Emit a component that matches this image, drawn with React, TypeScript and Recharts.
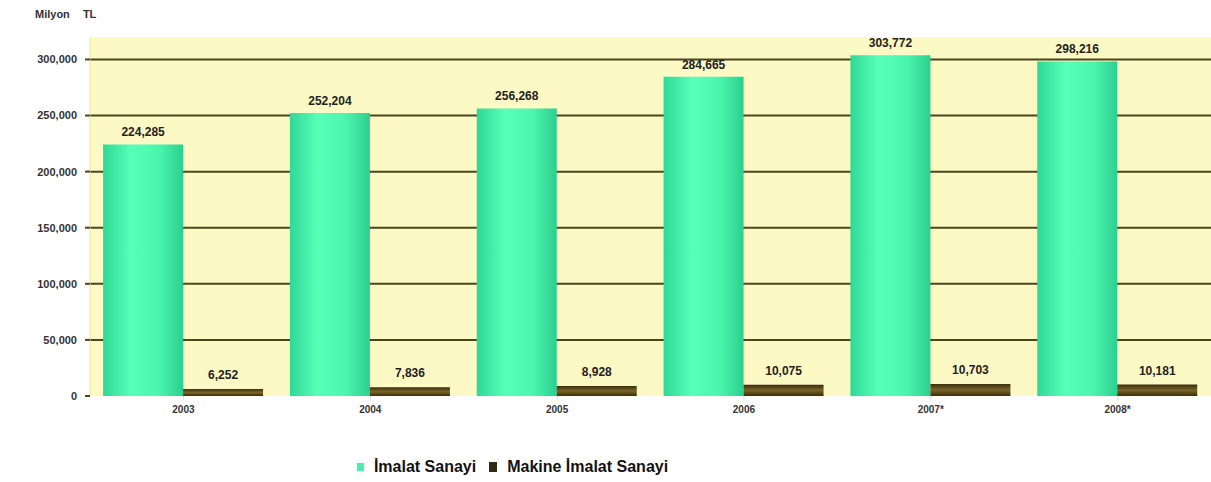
import { Bar, BarChart, CartesianGrid, LabelList, Legend, XAxis, YAxis } from 'recharts';

const YEARS = ['2003', '2004', '2005', '2006', '2007*', '2008*'];
const IMALAT = [224285, 252204, 256268, 284665, 303772, 298216];
const MAKINE = [6252, 7836, 8928, 10075, 10703, 10181];
const Y_TICKS = [0, 50000, 100000, 150000, 200000, 250000, 300000];
const SERIES_NAMES = ['İmalat Sanayi', 'Makine İmalat Sanayi'];

const FONT = '"Liberation Sans", Arial, sans-serif';
const GREEN = '#46f2aa';
const GRID_LINE = '#4a4720';
const PLOT_BG = '#fdf9c4';

const data = YEARS.map((year, i) => ({ year, imalat: IMALAT[i], makine: MAKINE[i] }));

const fmt = (v: number) => v.toLocaleString('en-US');

function LegendBox() {
  return (
    <div
      style={{
        display: 'flex',
        justifyContent: 'center',
        alignItems: 'center',
        gap: 13,
        paddingTop: 32,
        paddingRight: 186,
        fontFamily: FONT,
        fontWeight: 700,
        fontSize: 16,
        color: '#111',
      }}
    >
      <span style={{ display: 'flex', alignItems: 'center', gap: 10 }}>
        <span style={{ width: 7, height: 8, background: GREEN }} />
        {SERIES_NAMES[0]}
      </span>
      <span style={{ display: 'flex', alignItems: 'center', gap: 10 }}>
        <span style={{ width: 8, height: 10, background: '#2f2c14' }} />
        {SERIES_NAMES[1]}
      </span>
    </div>
  );
}

export default function App() {
  return (
    <div style={{ position: 'absolute', left: 0, top: 0, width: 1211, height: 482, background: '#fff' }}>
      <div
        style={{
          position: 'absolute',
          left: 35,
          top: 8,
          fontFamily: FONT,
          fontWeight: 700,
          fontSize: 11,
          color: '#333',
          wordSpacing: 10,
        }}
      >
        Milyon TL
      </div>
      <BarChart
        width={1211}
        height={482}
        data={data}
        margin={{ top: 37, right: 0, bottom: 0, left: 0 }}
        barCategoryGap="7%"
        barGap={0}
      >
        <defs>
          <linearGradient id="g-green" x1="0" y1="0" x2="1" y2="0">
            <stop offset="0%" stopColor="#2fd896" />
            <stop offset="35%" stopColor="#58ffb8" />
            <stop offset="70%" stopColor="#4cf5ae" />
            <stop offset="100%" stopColor="#2ccf8e" />
          </linearGradient>
          <linearGradient id="g-brown" x1="0" y1="0" x2="0" y2="1">
            <stop offset="0%" stopColor="#3a2e0c" />
            <stop offset="50%" stopColor="#7a6428" />
            <stop offset="100%" stopColor="#3a2e0c" />
          </linearGradient>
        </defs>
        <CartesianGrid
          fill={PLOT_BG}
          stroke={GRID_LINE}
          strokeWidth={2}
          vertical={false}
          horizontalValues={[50000, 100000, 150000, 200000, 250000, 300000]}
        />
        <XAxis
          dataKey="year"
          height={30}
          axisLine={false}
          tickLine={{ stroke: '#ddd' }}
          tickSize={4}
          tickMargin={6}
          tick={{ fill: '#333', fontSize: 10, fontWeight: 700, fontFamily: FONT }}
        />
        <YAxis
          width={90}
          domain={[0, 320000]}
          ticks={Y_TICKS}
          tickFormatter={fmt}
          axisLine={{ stroke: '#ece3a0' }}
          tickLine={{ stroke: GRID_LINE, strokeWidth: 2 }}
          tickSize={5}
          tickMargin={8}
          tick={{ fill: '#333', fontSize: 11, fontWeight: 700, fontFamily: FONT }}
        />
        <Legend verticalAlign="bottom" height={56} content={() => <LegendBox />} />
        <Bar dataKey="imalat" name={SERIES_NAMES[0]} fill="url(#g-green)" isAnimationActive={false}>
          <LabelList
            dataKey="imalat"
            position="top"
            offset={8}
            formatter={(v: any) => fmt(Number(v))}
            style={{ fill: '#222', fontSize: 12, fontWeight: 700, fontFamily: FONT }}
          />
        </Bar>
        <Bar dataKey="makine" name={SERIES_NAMES[1]} fill="url(#g-brown)" isAnimationActive={false}>
          <LabelList
            dataKey="makine"
            position="top"
            offset={10}
            formatter={(v: any) => fmt(Number(v))}
            style={{ fill: '#222', fontSize: 12, fontWeight: 700, fontFamily: FONT }}
          />
        </Bar>
      </BarChart>
    </div>
  );
}
